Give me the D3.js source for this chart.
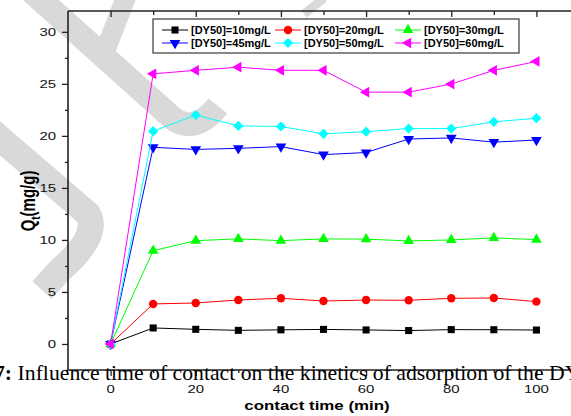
<!DOCTYPE html>
<html lang="en">
<head>
<meta charset="utf-8">
<style>
  body { margin: 0; background: #fff; }
  svg { display: block; }
</style>
</head>
<body>
<script src="https://d3js.org/d3.v7.min.js"></script>
<script>
  // contact time (min)
  const times = [0, 10, 20, 30, 40, 50, 60, 70, 80, 90, 100];
  // Qt (mg/g) for each initial DY50 concentration
  const q10 = [0, 1.54, 1.41, 1.31, 1.36, 1.40, 1.35, 1.29, 1.38, 1.37, 1.34];
  const q20 = [0, 3.85, 3.94, 4.23, 4.39, 4.13, 4.22, 4.20, 4.39, 4.42, 4.07];
  const q30 = [0, 8.97, 9.93, 10.10, 9.93, 10.10, 10.08, 9.90, 10.00, 10.20, 10.03];
  const q45 = [0, 18.9, 18.7, 18.8, 18.97, 18.2, 18.4, 19.7, 19.8, 19.4, 19.6];
  const q50 = [0, 20.45, 22.0, 20.96, 20.9, 20.2, 20.4, 20.7, 20.7, 21.35, 21.7];
  const q60 = [0, 25.96, 26.3, 26.6, 26.3, 26.3, 24.2, 24.2, 24.98, 26.3, 27.15];

  const seriesNames = ["[DY50]=10mg/L", "[DY50]=20mg/L", "[DY50]=30mg/L",
                       "[DY50]=45mg/L", "[DY50]=50mg/L", "[DY50]=60mg/L"];
  const xTicks = [0, 20, 40, 60, 80, 100];
  const yTicks = [0, 5, 10, 15, 20, 25, 30];

  const series = [
    { name: seriesNames[0], vals: q10, color: "#000000", shape: "square" },
    { name: seriesNames[1], vals: q20, color: "#ff0000", shape: "circle" },
    { name: seriesNames[2], vals: q30, color: "#00ff00", shape: "up" },
    { name: seriesNames[3], vals: q45, color: "#0000ff", shape: "down" },
    { name: seriesNames[4], vals: q50, color: "#00ffff", shape: "diamond" },
    { name: seriesNames[5], vals: q60, color: "#ff00ff", shape: "left" }
  ];

  const W = 571, H = 416;
  const pLeft = 68, pTop = 11, pBottom = 370;
  const stretch = 1.3; // the picture is widened horizontally

  const x = d3.scaleLinear().domain([-10, 110]).range([pLeft, 579]);
  const y = d3.scaleLinear().domain([-2.5, 32]).range([pBottom, pTop]);

  const svg = d3.select("body").append("svg")
    .attr("width", W).attr("height", H);

  // faint watermark strokes behind the chart
  const wm = svg.append("g")
    .attr("fill", "none")
    .attr("stroke", "#d9d9d9")
    .attr("stroke-width", 24);
  wm.append("path").attr("d", "M32,-8 L168,114 Q192,138 218,106");
  wm.append("path").attr("d", "M128,-8 L104,54").attr("stroke-width", 20);
  wm.append("path").attr("d", "M-12,128 L88,214 Q100,236 60,270 L42,290").attr("stroke-width", 26);
  wm.append("path").attr("d", "M324,-2 L304,14").attr("stroke-width", 9);

  function symbolPath(shape) {
    switch (shape) {
      case "square": return d3.symbol(d3.symbolSquare, 50)();
      case "circle": return d3.symbol(d3.symbolCircle, 56)();
      case "diamond": return d3.symbol(d3.symbolDiamond2, 66)();
      default: return d3.symbol(d3.symbolTriangle, 50)();
    }
  }
  function rot(shape) {
    if (shape === "down") return 180;
    if (shape === "left") return -90;
    return 0;
  }

  const line = d3.line()
    .x(function (d, i) { return x(times[i]); })
    .y(function (d) { return y(d); });

  series.forEach(function (s) {
    const g = svg.append("g");
    g.append("path")
      .attr("d", line(s.vals))
      .attr("fill", "none")
      .attr("stroke", s.color)
      .attr("stroke-width", 1);
    g.selectAll("path.m")
      .data(s.vals)
      .enter()
      .append("path")
      .attr("class", "m")
      .attr("d", symbolPath(s.shape))
      .attr("fill", s.color)
      .attr("transform", function (d, i) {
        return "translate(" + x(times[i]) + "," + y(d) + ") rotate(" + rot(s.shape) + ")";
      });
  });

  // axes
  const axisCol = "#222";
  const minorX = d3.range(10, 110, 20);
  const minorY = d3.range(-2.5, 32, 5);

  const xBottom = svg.append("g").attr("transform", "translate(0," + pBottom + ")");
  xBottom.call(d3.axisBottom(x).tickValues(xTicks).tickSize(6).tickFormat(""));
  xBottom.call(function (g) {
    g.select(".domain").attr("d", "M" + pLeft + ",0H" + W);
  });
  svg.append("g").attr("transform", "translate(0," + pBottom + ")")
    .call(d3.axisBottom(x).tickValues(minorX).tickSize(3).tickFormat(""))
    .call(function (g) { g.select(".domain").remove(); });

  const xTop = svg.append("g").attr("transform", "translate(0," + pTop + ")");
  xTop.call(d3.axisBottom(x).tickValues(xTicks).tickSize(6).tickFormat(""));
  xTop.call(function (g) { g.select(".domain").attr("d", "M" + pLeft + ",0H" + W); });
  svg.append("g").attr("transform", "translate(0," + pTop + ")")
    .call(d3.axisBottom(x).tickValues(minorX).tickSize(4).tickFormat(""))
    .call(function (g) { g.select(".domain").remove(); });

  const yLeft = svg.append("g").attr("transform", "translate(" + pLeft + ",0)");
  yLeft.call(d3.axisLeft(y).tickValues(yTicks).tickSize(6).tickFormat(""));
  yLeft.call(function (g) { g.select(".domain").attr("d", "M0," + pTop + "V" + pBottom); });
  svg.append("g").attr("transform", "translate(" + pLeft + ",0)")
    .call(d3.axisLeft(y).tickValues(minorY).tickSize(3).tickFormat(""))
    .call(function (g) { g.select(".domain").remove(); });

  svg.selectAll(".domain").attr("stroke", axisCol).attr("stroke-width", 1.6);
  svg.selectAll(".tick line").attr("stroke", axisCol).attr("stroke-width", 1.3);

  // tick labels (stretched horizontally like the picture)
  function sText(px, py, str) {
    return svg.append("text")
      .attr("transform", "translate(" + px + "," + py + ") scale(" + stretch + ",1)")
      .text(str);
  }
  yTicks.forEach(function (v) {
    sText(56, y(v) + 4, v)
      .attr("text-anchor", "end")
      .style("font", "11.5px 'Liberation Sans', Arial, sans-serif")
      .attr("fill", "#111");
  });
  xTicks.forEach(function (v) {
    sText(x(v), 393, v)
      .attr("text-anchor", "middle")
      .style("font", "11.5px 'Liberation Sans', Arial, sans-serif")
      .attr("fill", "#111");
  });

  // axis titles
  sText(317, 410, "contact time (min)")
    .attr("text-anchor", "middle")
    .style("font", "bold 13px 'Liberation Sans', Arial, sans-serif");

  const yl = svg.append("text")
    .attr("transform", "translate(35,201) scale(" + stretch + ",1) rotate(-90)")
    .attr("text-anchor", "middle")
    .style("font", "bold 15px 'Liberation Sans', Arial, sans-serif");
  yl.append("tspan").text("Q");
  yl.append("tspan").attr("dy", 4).style("font-size", "10px").text("t");
  yl.append("tspan").attr("dy", -4).text("(mg/g)");

  // legend
  const lg = svg.append("g");
  lg.append("rect")
    .attr("x", 153).attr("y", 19).attr("width", 366).attr("height", 34)
    .attr("fill", "#fff").attr("stroke", "#111").attr("stroke-width", 1);
  const colX = [162, 275, 395];
  const rowY = [30, 43];
  series.forEach(function (s, i) {
    const cx = colX[i % 3], cy = rowY[Math.floor(i / 3)];
    lg.append("line")
      .attr("x1", cx).attr("x2", cx + 26).attr("y1", cy).attr("y2", cy)
      .attr("stroke", s.color).attr("stroke-width", 1);
    lg.append("path")
      .attr("d", symbolPath(s.shape))
      .attr("fill", s.color)
      .attr("transform", "translate(" + (cx + 13) + "," + cy + ") rotate(" + rot(s.shape) + ")");
    lg.append("text")
      .attr("x", cx + 29).attr("y", cy + 4)
      .style("font", "bold 11px 'Liberation Sans', Arial, sans-serif")
      .text(s.name);
  });

  // caption text that runs over the axis
  const cap = svg.append("text")
    .attr("transform", "translate(-6,380) scale(1.035,1)")
    .style("font", "21px 'Liberation Serif', 'Times New Roman', serif");
  cap.append("tspan").style("font-weight", "bold").text("7:");
  cap.append("tspan").text(" Influence time of contact on the kinetics of adsorption of the DY50 dye");
</script>
</body>
</html>
